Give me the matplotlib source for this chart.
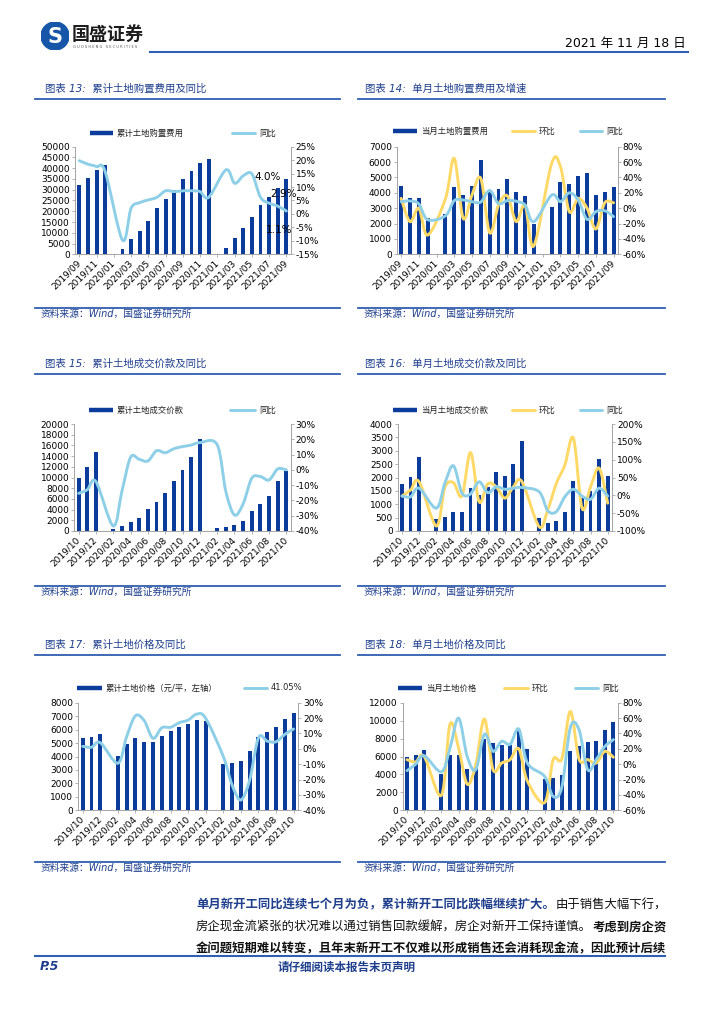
import numpy as np
import pandas as pd
import matplotlib
matplotlib.use("Agg")
import matplotlib.pyplot as plt
from matplotlib.path import Path
from matplotlib.patches import PathPatch, Circle
from matplotlib.lines import Line2D
from matplotlib.ticker import FuncFormatter

plt.rcParams['font.family'] = ['DejaVu Sans', 'Noto Sans CJK SC']

nan = np.nan
W, H = 724, 1024

# 月份标签
months_a = list(pd.period_range('2019-09', '2021-09', freq='M').strftime('%Y/%m'))
months_b = list(pd.period_range('2019-10', '2021-10', freq='M').strftime('%Y/%m'))

# 图表13 累计土地购置费用及同比
cum_cost = [32000, 35600, 39300, 41500, nan, 2600, 7000, 10800, 15300, 21400, 25700, 30000, 34800,
            38700, 42300, 44400, nan, 3000, 7800, 12300, 17500, 22800, 26600, 30800, 35000]
cum_cost_yoy = [19.8, 18.5, 17.6, 15.7, nan, -9.7, 2.1, 4.2, 5.2, 6.2, 8.6, 8.3, 8.6,
                8.6, 8.3, 6.2, nan, 16.4, 11.4, 14.2, 14.9, 6.2, 4.0, 2.9, 1.1]

# 图表14 单月土地购置费用及增速
mon_cost = [4450, 3640, 3640, 2340, nan, 2620, 4360, 3840, 4470, 6120, 4190, 4230, 4880,
            4030, 3800, 1970, nan, 3060, 4730, 4580, 5120, 5270, 3860, 4080, 4360]
mon_cost_mom = [12.8, -17.5, 0, -35, nan, 12, 64.8, -13, 17, 38.8, -32, 4, 16,
                -17.5, 4, -49, nan, 58, 54, -4.5, 12.8, 0, -27, 7, 7]
mon_cost_yoy = [8.5, 9.4, 5.5, -15, nan, -10, 9.8, 10.7, 8.5, 8, 23, 6, 10,
                9, 4, -17.5, nan, 17, 8.5, 20, 10.7, -14.5, -4.5, -3.3, -11]

# 图表15 累计土地成交价款及同比
cum_deal = [9970, 12030, 14700, nan, 350, 930, 1620, 2430, 4050, 5360, 7040, 9350, 11400,
            13900, 17260, nan, 500, 750, 1120, 1870, 3740, 5050, 6600, 9350, 11280]
cum_deal_yoy = [-15.4, -13, -7.7, nan, -36.7, -14, 8.2, 6.9, 5.8, 12.5, 11.2, 13.8, 15.2,
                16.2, 17.8, nan, 16.5, -14, -29.5, -22.3, -5.5, -4.4, -6.6, 0.6, 0]

# 图表16 单月土地成交价款及同比
mon_deal = [1745, 2030, 2750, nan, 440, 540, 720, 720, 1610, 1350, 1660, 2220, 2060,
            2500, 3380, nan, 500, 290, 375, 720, 1870, 1220, 1500, 2690, 2060]
mon_deal_mom = [-2, 15, 38, nan, -86, 22, 35.5, -2, 120, -18, 32, 24, -8,
                24, 38, nan, -88, -41, 33, 85, 160, -36, 24, 76, -22]
mon_deal_yoy = [-2, -4, 20, nan, -36, 34, 83, 6, 4, 38, 7.5, 24, 17,
                20, 22, nan, 10, -43, -46, -4, 17, -2, -11, 20, -2]

# 图表17 累计土地价格及同比
cum_price = [5350, 5470, 5670, nan, 4030, 4950, 5350, 5100, 5050, 5540, 5890, 6190, 6410,
             6740, 6640, nan, 3440, 3490, 3660, 4400, 5420, 5840, 6190, 6780, 7210]
cum_price_yoy = [1.6, 1.0, 4.0, nan, -9.4, 7.9, 21.5, 18.3, 6.8, 13.7, 14.0, 17.0, 18.7,
                 22.6, 19.8, nan, -5, -23.5, -33.3, -20.3, 7.2, 5.0, 4.6, 9.4, 12.9]

# 图表18 单月土地价格及同比
mon_price = [5910, 6130, 6730, nan, 4050, 6130, 6130, 4610, 4980, 7990, 7470, 7320, 7320,
             8880, 6840, nan, 3490, 3610, 3980, 6650, 7140, 7580, 7770, 9000, 9850]
mon_price_mom = [5.9, 2.9, 10, nan, -40.5, 52, 21, -26, -0.6, 58.8, -7, 1.5, 6,
                 20, -22, nan, -50, 6, 7, 68.7, 6.7, 6, 1.5, 16.7, 9]
mon_price_yoy = [-8.4, 0, 11, nan, -10, 21, 60, 10, -7, 39, 16.7, 29.7, 26,
                 45.7, 1.5, nan, -15.8, -42, -30, 48, 45, -7, 6, 23, 32]

BAR = '#0b3b9b'
YEL = '#ffd966'
SKY = '#8ecfe8'
TXT_BLUE = '#1f3f8c'
RULE = '#2f5fb0'
AXC = '#a6a6a6'

fig = plt.figure(figsize=(W / 100, H / 100), dpi=100)


def fx(px):
    return px / W


def fy(py):
    return 1 - py / H


def smooth(xs, ys):
    # 平滑折线 (Catmull-Rom -> Bezier)
    pts = np.column_stack([xs, ys])
    n = len(pts)
    verts = [pts[0]]
    codes = [Path.MOVETO]
    for i in range(n - 1):
        p0 = pts[i - 1] if i > 0 else pts[i]
        p1 = pts[i]
        p2 = pts[i + 1]
        p3 = pts[i + 2] if i + 2 < n else pts[i + 1]
        verts += [p1 + (p2 - p0) / 6, p2 - (p3 - p1) / 6, p2]
        codes += [Path.CURVE4] * 3
    return Path(verts, codes)


def chart(box, labels, bars, bmax, bstep, lines, ylo, yhi, ystep):
    l, t, r, b = box
    ax = fig.add_axes([fx(l), fy(b), (r - l) / W, (b - t) / H])
    n = len(labels)
    x = np.arange(n)
    ax.bar(x, bars, width=0.45, color=BAR, zorder=2)
    ax.set_xlim(-0.5, n - 0.5)
    ax.set_ylim(0, bmax)
    ax.set_yticks(np.arange(0, bmax + 1, bstep))
    ax.set_xticks(x[::2])
    ax.set_xticklabels(labels[::2], rotation=45, ha='right', va='center', rotation_mode='anchor')
    ax2 = ax.twinx()
    for vals, col in lines:
        v = np.array(vals, float)
        ok = ~np.isnan(v)
        ax2.add_patch(PathPatch(smooth(x[ok], v[ok]), fill=False, ec=col, lw=2.1,
                                capstyle='round', joinstyle='round'))
    ax2.set_ylim(ylo, yhi)
    ax2.set_yticks(np.arange(ylo, yhi + 0.1, ystep))
    ax2.yaxis.set_major_formatter(FuncFormatter(lambda v, p: f'{v:.0f}%'))
    for a in (ax, ax2):
        a.spines['top'].set_visible(False)
        for s in ('left', 'right', 'bottom'):
            a.spines[s].set_color(AXC)
            a.spines[s].set_linewidth(0.7)
        a.tick_params(labelsize=6.5, length=2, width=0.6, color=AXC, pad=1.5)
    ax.tick_params(axis='x', pad=3.5)
    return ax, ax2


def legend(y, items):
    for x0, x1, col, kind, label in items:
        lw = 3.2 if kind == 'bar' else 2.1
        cap = 'butt' if kind == 'bar' else 'round'
        fig.add_artist(Line2D([fx(x0), fx(x1)], [fy(y), fy(y)], color=col, lw=lw,
                              solid_capstyle=cap, transform=fig.transFigure))
        fig.text(fx(x1 + 4), fy(y), label, fontsize=6, va='center', color='#222222')


def frame(side, y_title, y_rule, y_src_rule, y_src, title):
    if side == 0:
        xt, r0, r1 = 45, 35, 340
    else:
        xt, r0, r1 = 365, 358, 665
    fig.text(fx(xt), fy(y_title), title, fontsize=7.5, color=TXT_BLUE, style='italic', va='center')
    fig.add_artist(Line2D([fx(r0), fx(r1)], [fy(y_rule)] * 2, color=RULE, lw=1.3,
                          transform=fig.transFigure))
    fig.add_artist(Line2D([fx(r0), fx(r1)], [fy(y_src_rule)] * 2, color=RULE, lw=1.3,
                          transform=fig.transFigure))
    fig.text(fx(r0 + 6), fy(y_src), '资料来源：Wind，国盛证券研究所', fontsize=7,
             color=TXT_BLUE, style='italic', va='center')


# ---- 页眉 ----
ax_logo = fig.add_axes([fx(41), fy(50), 28 / W, 28 / H])
ax_logo.set_xlim(-1, 1)
ax_logo.set_ylim(-1, 1)
ax_logo.set_aspect('equal')
ax_logo.axis('off')
ax_logo.add_patch(Circle((0, 0), 1, color='#1655a8'))
ax_logo.text(0, -0.05, 'S', color='white', fontsize=15, fontweight='bold', ha='center', va='center')
fig.text(fx(72), fy(35), '国盛证券', fontsize=13, fontweight='bold', color='#1c1c1c', va='center')
fig.text(fx(73), fy(47), 'G U O S H E N G   S E C U R I T I E S', fontsize=2.6, color='#555555', va='center')
fig.add_artist(Line2D([fx(150), fx(688)], [fy(52)] * 2, color=RULE, lw=1.5, transform=fig.transFigure))
fig.text(fx(686), fy(43), '2021 年 11 月 18 日', fontsize=9, ha='right', va='center')

# ---- 标题框 ----
frame(0, 89, 99, 308, 314, '图表 13:  累计土地购置费用及同比')
frame(1, 89, 99, 308, 314, '图表 14:  单月土地购置费用及增速')
frame(0, 364, 374, 586, 592, '图表 15:  累计土地成交价款及同比')
frame(1, 364, 374, 586, 592, '图表 16:  单月土地成交价款及同比')
frame(0, 645, 655, 862, 868, '图表 17:  累计土地价格及同比')
frame(1, 645, 655, 862, 868, '图表 18:  单月土地价格及同比')

# ---- 图表13 ----
ax, ax2 = chart((75, 146.7, 290.7, 254.3), months_a, cum_cost, 50000, 5000,
                [(cum_cost_yoy, SKY)], -15, 25, 5)
for i, dx, dy in [(22, -1, 19), (23, 4, 9), (24, -5, -14)]:
    ax2.annotate(f'{cum_cost_yoy[i]:.1f}%', (i, cum_cost_yoy[i]), xytext=(dx, dy),
                 textcoords='offset points', ha='center', va='center', fontsize=7.5)
legend(133, [(90, 113, BAR, 'bar', '累计土地购置费用'), (232, 255, SKY, 'line', '同比')])

# ---- 图表14 ----
chart((396.7, 146.7, 618, 254.3), months_a, mon_cost, 7000, 1000,
      [(mon_cost_mom, YEL), (mon_cost_yoy, SKY)], -60, 80, 20)
legend(131, [(393, 417, BAR, 'bar', '当月土地购置费用'), (512, 535, YEL, 'line', '环比'),
             (580, 602, SKY, 'line', '同比')])

# ---- 图表15 ----
chart((74.3, 424, 290.7, 531), months_b, cum_deal, 20000, 2000,
      [(cum_deal_yoy, SKY)], -40, 30, 10)
legend(410, [(89, 113, BAR, 'bar', '累计土地成交价款'), (230, 255, SKY, 'line', '同比')])

# ---- 图表16 ----
chart((397.7, 424, 612, 531), months_b, mon_deal, 4000, 500,
      [(mon_deal_mom, YEL), (mon_deal_yoy, SKY)], -100, 200, 50)
legend(410, [(393, 417, BAR, 'bar', '当月土地成交价款'), (512, 535, YEL, 'line', '环比'),
             (580, 602, SKY, 'line', '同比')])

# ---- 图表17 ----
chart((78.3, 702.7, 298, 810.3), months_b, cum_price, 8000, 1000,
      [(cum_price_yoy, SKY)], -40, 30, 10)
legend(688, [(77, 102, BAR, 'bar', '累计土地价格（元/平，左轴）'), (244, 267, SKY, 'line', '41.05%')])

# ---- 图表18 ----
chart((402.7, 702.7, 617.7, 810.3), months_b, mon_price, 12000, 2000,
      [(mon_price_mom, YEL), (mon_price_yoy, SKY)], -60, 80, 20)
legend(688, [(398, 422, BAR, 'bar', '当月土地价格'), (504, 528, YEL, 'line', '环比'),
             (575, 598, SKY, 'line', '同比')])

# ---- 正文 ----
cw = 12.4
body = [
    (905, [('单月新开工同比连续七个月为负，累计新开工同比跌幅继续扩大。', TXT_BLUE, 'bold'),
           ('由于销售大幅下行，', '#111111', 'normal')]),
    (927, [('房企现金流紧张的状况难以通过销售回款缓解，房企对新开工保持谨慎。', '#111111', 'normal'),
           ('考虑到房企资', '#111111', 'bold')]),
    (949, [('金问题短期难以转变，且年末新开工不仅难以形成销售还会消耗现金流，因此预计后续', '#111111', 'bold')]),
]
for y, segs in body:
    x0 = 196
    for s, col, wt in segs:
        fig.text(fx(x0), fy(y), s, fontsize=8.9, color=col, fontweight=wt, va='center',
                 family=['Noto Sans CJK SC'])
        x0 += cw * len(s)

# ---- 页脚 ----
fig.add_artist(Line2D([fx(35), fx(665)], [fy(956)] * 2, color=RULE, lw=1.5, transform=fig.transFigure))
fig.text(fx(40), fy(967), 'P.5', fontsize=9, fontweight='bold', style='italic', color=TXT_BLUE, va='center')
fig.text(fx(278), fy(967), '请仔细阅读本报告末页声明', fontsize=8.3, fontweight='bold', color=TXT_BLUE,
         va='center', family=['Noto Sans CJK SC'])

fig.savefig('out.png', dpi=100)
